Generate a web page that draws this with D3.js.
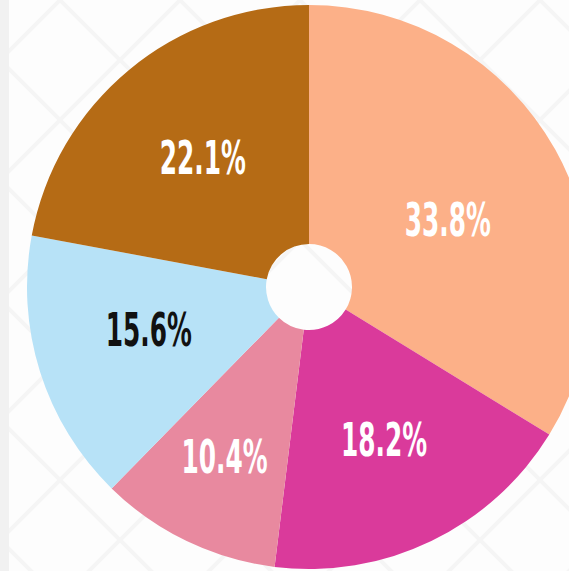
<!DOCTYPE html>
<html>
<head>
<meta charset="utf-8">
<script src="https://cdn.jsdelivr.net/npm/d3@7"></script>
<style>
  html, body { margin: 0; padding: 0; background: #fdfdfd; }
  svg { display: block; }
</style>
</head>
<body>
<svg id="chart"></svg>
<script>
// slice data, clockwise from 12 o'clock
let labels = ["33.8%", "18.2%", "10.4%", "15.6%", "22.1%"],
    values = [33.8, 18.2, 10.4, 15.6, 22.1],
    colors = ["#fcb088", "#da3a9b", "#e8899f", "#b7e2f7", "#b56b15"],
    textColors = ["#ffffff", "#ffffff", "#ffffff", "#111111", "#ffffff"];

let width = 569,
    height = 571,
    cx = 309,
    cy = 287,
    outer = 282,
    inner = 43;

// small hand placement of the labels off the centroid
let nudge = [[-6, 13], [3, 3], [-2, -2], [-2, -8], [0, -2]];

function visualize() {
  let svg = d3.select("#chart")
    .attr("width", width)
    .attr("height", height);

  draw_background(svg);

  let data = values.map((v, i) => ({v: v, label: labels[i], i: i}));
  let pie = d3.pie()
    .value(d => d.v)
    .sort(null);
  let arcs = pie(data);

  let arc = d3.arc()
    .innerRadius(inner)
    .outerRadius(outer);

  let g = svg.append("g")
    .attr("transform", `translate(${cx},${cy})`);

  g.selectAll("path")
    .data(arcs).enter()
    .append("path")
    .attr("d", arc)
    .attr("fill", d => colors[d.data.i]);

  // label radius, the small slice sits a bit further out
  let labelArc = i => d3.arc()
    .innerRadius(i == 2 ? 190 : 166)
    .outerRadius(i == 2 ? 190 : 166);

  g.selectAll("text")
    .data(arcs).enter()
    .append("text")
    .attr("transform", d => {
      let [x, y] = labelArc(d.data.i).centroid(d);
      let [nx, ny] = nudge[d.data.i];
      return `translate(${x + nx},${y + ny}) scale(0.6,1)`;
    })
    .attr("text-anchor", "middle")
    .attr("dy", "0.36em")
    .style("font-family", "'Liberation Sans Narrow', 'DejaVu Sans Condensed', sans-serif")
    .style("font-weight", "bold")
    .style("font-size", "46px")
    .attr("fill", d => textColors[d.data.i])
    .text(d => d.data.label);
}

function draw_background(svg) {
  let defs = svg.append("defs");
  let pat = defs.append("pattern")
    .attr("id", "bgpat")
    .attr("patternUnits", "userSpaceOnUse")
    .attr("width", 120)
    .attr("height", 120);
  pat.append("path")
    .attr("d", "M0,60 L60,0 M60,120 L120,60 M0,60 L60,120 M60,0 L120,60")
    .attr("stroke", "#f5f5f5")
    .attr("stroke-width", 4)
    .attr("fill", "none");
  svg.append("rect")
    .attr("width", width)
    .attr("height", height)
    .attr("fill", "url(#bgpat)");
  svg.append("rect")
    .attr("width", 9)
    .attr("height", height)
    .attr("fill", "#f1f1f1");
}

visualize();
</script>
</body>
</html>
